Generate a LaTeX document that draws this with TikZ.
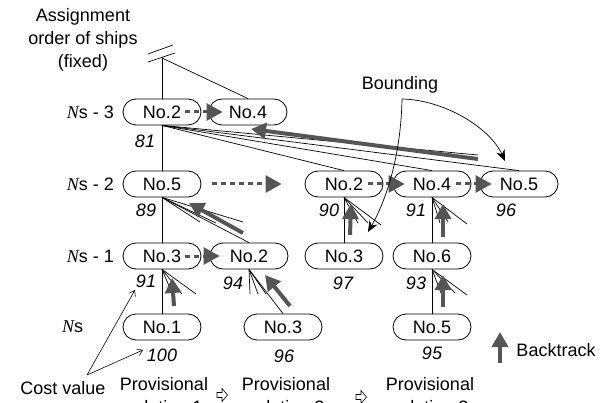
\documentclass[tikz,border=0pt]{standalone}
\usepackage{fontspec}
\setmainfont{Liberation Sans}
\newfontfamily\timesfont{Liberation Serif}
\usetikzlibrary{arrows.meta}
\definecolor{arrowgray}{HTML}{555555}

\begin{document}
\begin{tikzpicture}[x=1pt,y=-1pt,
  every node/.style={font=\fontsize{18}{23}\selectfont, inner sep=0pt},
  ship/.style={draw, line width=0.8pt, rounded corners=13pt, minimum width=78pt, minimum height=26pt},
  cost/.style={font=\fontsize{18}{23}\selectfont\itshape},
  fine/.style={line width=0.7pt},
  order/.style={draw=arrowgray, line width=3pt, dash pattern=on 5pt off 4pt, -{Triangle[length=16pt,width=17pt]}},
  back/.style={draw=arrowgray, line width=4pt, -{Triangle[length=15pt,width=16pt]}},
  bound/.style={line width=0.7pt, -{Stealth[length=11pt,width=9pt]}},
  note/.style={line width=0.6pt, -{Straight Barb[length=5pt,width=7pt]}},
  nextsol/.style={draw, line width=0.6pt, fill=white}
]
\useasboundingbox (0,0) rectangle (609,403);

% title and level labels
\node[align=center] (title) at (83,40) {Assignment\\order of ships\\(fixed)};
\node[anchor=east] (l3) at (114,112) {{\timesfont\itshape N}s - 3};
\node[anchor=east] (l2) at (114,184) {{\timesfont\itshape N}s - 2};
\node[anchor=east] (l1) at (114,256) {{\timesfont\itshape N}s - 1};
\node[anchor=west] (l0) at (62,327) {{\timesfont\itshape N}s};

% ships
\node[ship] (a3) at (162,112) {No.2};
\node[ship] (b3) at (248,112) {No.4};
\node[ship] (a2) at (162,184) {No.5};
\node[ship] (c2) at (344,184) {No.2};
\node[ship] (d2) at (432,184) {No.4};
\node[ship] (e2) at (519,184) {No.5};
\node[ship] (a1) at (162,256) {No.3};
\node[ship] (b1) at (249,256) {No.2};
\node[ship] (c1) at (344,256) {No.3};
\node[ship] (d1) at (432,256) {No.6};
\node[ship] (a0) at (162,327) {No.1};
\node[ship] (b0) at (283,327) {No.3};
\node[ship] (d0) at (432,327) {No.5};

% cost values
\node[cost] (k81) at (145,141) {81};
\node[cost] (k89) at (146,210) {89};
\node[cost] (k91a) at (146,281) {91};
\node[cost] (k100) at (162,355) {100};
\node[cost] (k94) at (233,283) {94};
\node[cost] (k96a) at (284,356) {96};
\node[cost] (k90) at (329,210) {90};
\node[cost] (k91b) at (416,210) {91};
\node[cost] (k96b) at (506,210) {96};
\node[cost] (k97) at (343,283) {97};
\node[cost] (k93) at (416,283) {93};
\node[cost] (k95) at (432,353) {95};

% root with break mark
\coordinate (root) at (162,58);
\draw[fine] (148,54) -- (173,45);
\draw[fine] (148,62) -- (175,53);
\draw[fine] (root) -- (a3.north);
\draw[fine] (root) -- (b3.north);

% fixed order trunk
\draw[fine] (a3.south) -- (a2.north);
\draw[fine] (a2.south) -- (a1.north);
\draw[fine] (a1.south) -- (a0.north);
\draw[fine] (c2.south) -- (c1.north);
\draw[fine] (d2.south) -- (d1.north);
\draw[fine] (d1.south) -- (d0.north);

% branches from No.2 (Ns-3)
\coordinate (f3x) at (478,155);
\draw[fine] (a3.south) -- (c2.north);
\draw[fine] (a3.south) -- (d2.north);
\draw[fine] (a3.south) -- (e2.north);
\draw[fine] (a3.south) -- (f3x);
\coordinate (bk3s) at (478,159);
\coordinate (bk3e) at (251,129);
\draw[back] (bk3s) -- (bk3e);

% branches from No.5 (Ns-2)
\coordinate (f2a) at (200,222);
\coordinate (f2b) at (216,223);
\coordinate (f2c) at (243,222);
\draw[fine] (a2.south) -- (f2a);
\draw[fine] (a2.south) -- (f2b);
\draw[fine] (a2.south) -- (f2c);
\draw[fine] (a2.south) -- (b1.north);
\coordinate (bk2s) at (243,233);
\coordinate (bk2e) at (189,203);
\draw[back] (bk2s) -- (bk2e);

% branches from No.3 (Ns-1)
\coordinate (f1a) at (172,293);
\coordinate (f1b) at (182,294);
\coordinate (f1c) at (196,294);
\draw[fine] (a1.south) -- (f1a);
\draw[fine] (a1.south) -- (f1b);
\draw[fine] (a1.south) -- (f1c);
\coordinate (bk1s) at (174,306);
\coordinate (bk1e) at (172,278);
\draw[back] (bk1s) -- (bk1e);

% branches from No.2 (Ns-1)
\coordinate (g1a) at (250,294);
\coordinate (g1b) at (258,294);
\coordinate (g1c) at (266,294);
\draw[fine] (b1.south) -- (g1a);
\draw[fine] (b1.south) -- (g1b);
\draw[fine] (b1.south) -- (g1c);
\draw[fine] (b1.south) -- (b0.north);
\coordinate (bkgs) at (290,306);
\coordinate (bkge) at (265,275);
\draw[back] (bkgs) -- (bkge);

% branches from No.2 (Ns-2, second solution)
\coordinate (h2a) at (358,223);
\coordinate (h2b) at (368,223);
\coordinate (h2c) at (381,225);
\draw[fine] (c2.south) -- (h2a);
\draw[fine] (c2.south) -- (h2b);
\draw[fine] (c2.south) -- (h2c);
\coordinate (bkhs) at (350,235);
\coordinate (bkhe) at (351,204);
\draw[back] (bkhs) -- (bkhe);

% branches from No.4 (Ns-2)
\coordinate (i2a) at (440,223);
\coordinate (i2b) at (448,222);
\coordinate (i2c) at (467,224);
\draw[fine] (d2.south) -- (i2a);
\draw[fine] (d2.south) -- (i2b);
\draw[fine] (d2.south) -- (i2c);
\coordinate (bkis) at (443,237);
\coordinate (bkie) at (443,204);
\draw[back] (bkis) -- (bkie);

% branches from No.6 (Ns-1)
\coordinate (j1a) at (441,293);
\coordinate (j1b) at (455,293);
\coordinate (j1c) at (467,295);
\draw[fine] (d1.south) -- (j1a);
\draw[fine] (d1.south) -- (j1b);
\draw[fine] (d1.south) -- (j1c);
\coordinate (bkjs) at (443,307);
\coordinate (bkje) at (443,275);
\draw[back] (bkjs) -- (bkje);

% change of ship order
\draw[order] ([xshift=-16pt]a3.east) -- ([xshift=14pt]b3.west);
\draw[order] ([xshift=11pt]a2.east) -- ([xshift=-23pt]c2.west);
\draw[order] ([xshift=-15pt]c2.east) -- ([xshift=12pt]d2.west);
\draw[order] ([xshift=-15pt]d2.east) -- ([xshift=12pt]e2.west);
\draw[order] ([xshift=-16pt]a1.east) -- ([xshift=10pt]b1.west);

% bounding
\node (bnd) at (400,85) {Bounding};
\coordinate (bndo) at (402,99);
\coordinate (bndr) at (505,161);
\coordinate (bndl) at (368,232);
\draw[bound] (bndo) .. controls (445,100) and (490,128) .. (bndr);
\draw[bound] (bndo) .. controls (401,150) and (389,195) .. (bndl);

% cost value callout
\node (cv) at (63,388) {Cost value};
\coordinate (cvo) at (87,375);
\coordinate (cva) at (135,290);
\coordinate (cvb) at (143,350);
\draw[note] (cvo) -- (cva);
\draw[note] (cvo) -- (cvb);

% provisional solutions
\node[align=center] (p1) at (164,396) {Provisional\\solution 1};
\node[align=center] (p2) at (286,396) {Provisional\\solution 2};
\node[align=center] (p3) at (430,396) {Provisional\\solution 3};
\foreach \x/\y in {222/395, 361/397}{
  \draw[nextsol] (\x-5,\y-2.5) -- (\x,\y-2.5) -- (\x,\y-6.5) -- (\x+5.5,\y) -- (\x,\y+6.5) -- (\x,\y+2.5) -- (\x-5,\y+2.5) -- cycle;
}

% legend
\coordinate (lgs) at (500,363);
\coordinate (lge) at (500,332);
\draw[back] (lgs) -- (lge);
\node (lgt) at (556,350) {Backtrack};
\end{tikzpicture}
\end{document}
